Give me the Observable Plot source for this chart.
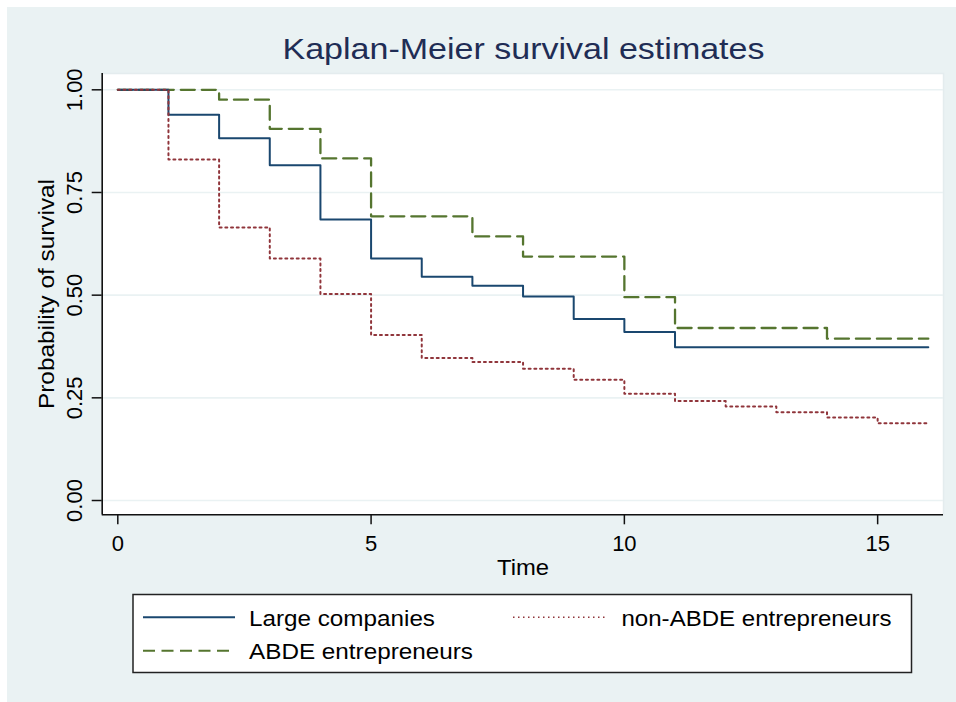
<!DOCTYPE html>
<html>
<head>
<meta charset="utf-8">
<script src="https://cdn.jsdelivr.net/npm/d3@7"></script>
<script src="https://cdn.jsdelivr.net/npm/@observablehq/plot@0.6"></script>
<style>
  html, body { margin: 0; padding: 0; background: #ffffff; }
  #wrap { position: relative; width: 956px; height: 702px; overflow: hidden; font-family: "Liberation Sans", Arial, sans-serif; }
  #bg { position: absolute; left: 7px; top: 7px; width: 949px; height: 695px; background: #eaf2f3; }
  #chart { position: absolute; left: 0; top: 0; }
  #overlay { position: absolute; left: 0; top: 0; pointer-events: none; }
</style>
</head>
<body>
<div id="wrap">
  <div id="bg"></div>
  <div id="chart"></div>
  <svg id="overlay" width="956" height="702"></svg>
</div>
<script>
// ---- data ----
const titleText = "Kaplan-Meier survival estimates";
const xLabel = "Time";
const yLabel = "Probability of survival";
const seriesNames = ["Large companies", "non-ABDE entrepreneurs", "ABDE entrepreneurs"];
const seriesColors = ["#1a476f", "#90353b", "#55752f"];

const largeTimes = [0, 1, 2, 3, 4, 5, 6, 7, 8, 9, 10, 11, 16];
const largeSurv  = [1, 0.939, 0.882, 0.816, 0.684, 0.589, 0.545, 0.523, 0.497, 0.442, 0.410, 0.373, 0.373];

const nonAbdeTimes = [0, 1, 2, 3, 4, 5, 6, 7, 8, 9, 10, 11, 12, 13, 14, 15, 16];
const nonAbdeSurv  = [1, 0.830, 0.665, 0.589, 0.503, 0.403, 0.347, 0.337, 0.321, 0.294, 0.260, 0.242, 0.229, 0.215, 0.202, 0.188, 0.188];

const abdeTimes = [0, 2, 3, 4, 5, 7, 8, 10, 11, 14, 16];
const abdeSurv  = [1, 0.976, 0.905, 0.833, 0.692, 0.643, 0.594, 0.495, 0.420, 0.394, 0.394];

const xTicks = [0, 5, 10, 15];
const yTicks = [0, 0.25, 0.5, 0.75, 1];
const xDomain = [-0.308, 16.30];
const yDomain = [-0.0348, 1.0397];

// ---- build ----
const toPts = (ts, ss) => ts.map((t, i) => ({t, s: ss[i]}));
const large = toPts(largeTimes, largeSurv);
const nonAbde = toPts(nonAbdeTimes, nonAbdeSurv);
const abde = toPts(abdeTimes, abdeSurv);

const FONT = "Liberation Sans, Arial, sans-serif";

const plot = Plot.plot({
  width: 956,
  height: 702,
  marginLeft: 101.7,
  marginRight: 13,
  marginTop: 73,
  marginBottom: 187.7,
  style: { background: "transparent", fontFamily: FONT, fontSize: "22px", color: "#000", overflow: "visible" },
  x: { domain: xDomain, label: null },
  y: { domain: yDomain, label: null },
  marks: [
    Plot.frame({ fill: "white", stroke: "#e4ecee", strokeWidth: 1.5 }),
    Plot.gridY(yTicks, { stroke: "#eaf2f3", strokeOpacity: 1, strokeWidth: 1.6 }),
    Plot.line(abde, { x: "t", y: "s", curve: "step-after", stroke: seriesColors[2], strokeWidth: 2.3, strokeDasharray: "14,7" }),
    Plot.line(large, { x: "t", y: "s", curve: "step-after", stroke: seriesColors[0], strokeWidth: 2 }),
    Plot.line(nonAbde, { x: "t", y: "s", curve: "step-after", stroke: seriesColors[1], strokeWidth: 2, strokeDasharray: "2,3.7" }),
    Plot.ruleX([xDomain[0]], { stroke: "#111", strokeWidth: 1.6 }),
    Plot.ruleY([yDomain[0]], { stroke: "#111", strokeWidth: 1.6 }),
    Plot.axisX(xTicks, { anchor: "bottom", tickSize: 10, tickPadding: 11, fontSize: 22, tickFormat: d => String(d), stroke: "#111", strokeWidth: 1.5, fill: "#000" }),
    Plot.axisY(yTicks, { anchor: "left", tickSize: 10, tickFormat: () => "", stroke: "#111", strokeWidth: 1.5 }),
    Plot.text(yTicks, { y: d => d, frameAnchor: "left", dx: -20, rotate: -90, textAnchor: "middle", lineAnchor: "bottom", text: d => d.toFixed(2), fontSize: 22, fill: "#000" })
  ]
});
document.getElementById("chart").appendChild(plot);

// ---- overlay: title, axis titles, legend ----
const ov = d3.select("#overlay").style("font-family", FONT);
function txt(sel, s, len) {
  const t = sel.append("text").text(s);
  if (len) t.attr("textLength", len).attr("lengthAdjust", "spacingAndGlyphs");
  return t;
}
txt(ov, titleText, 482).attr("x", 523.5).attr("y", 59).attr("text-anchor", "middle")
  .attr("font-size", 29.5).attr("fill", "#1f2d55");
txt(ov, xLabel, 52).attr("x", 523).attr("y", 575).attr("text-anchor", "middle")
  .attr("font-size", 22).attr("fill", "#000");
txt(ov, yLabel, 230).attr("transform", "translate(54,294) rotate(-90)").attr("text-anchor", "middle")
  .attr("font-size", 22).attr("fill", "#000");

// legend box
const L = { x: 133, y: 594.5, w: 778.5, h: 78 };
ov.append("rect").attr("x", L.x).attr("y", L.y).attr("width", L.w).attr("height", L.h)
  .attr("fill", "white").attr("stroke", "#222").attr("stroke-width", 1.5);
const legendItems = [
  { name: seriesNames[0], len: 186, color: seriesColors[0], dash: null, w: 2, lx: 143, ly: 617.3, tx: 249, ty: 625.7 },
  { name: seriesNames[1], len: 270, color: seriesColors[1], dash: "1.5,3.5", w: 1.5, lx: 513, ly: 617.3, tx: 621.5, ty: 625.7 },
  { name: seriesNames[2], len: 224, color: seriesColors[2], dash: "12,6.5", w: 2, lx: 143, ly: 650.7, tx: 249, ty: 659.2 }
];
legendItems.forEach(it => {
  const ln = ov.append("line").attr("x1", it.lx).attr("x2", it.lx + 92).attr("y1", it.ly).attr("y2", it.ly)
    .attr("stroke", it.color).attr("stroke-width", it.w);
  if (it.dash) ln.attr("stroke-dasharray", it.dash);
  txt(ov, it.name, it.len).attr("x", it.tx).attr("y", it.ty).attr("font-size", 22).attr("fill", "#000");
});
</script>
</body>
</html>
